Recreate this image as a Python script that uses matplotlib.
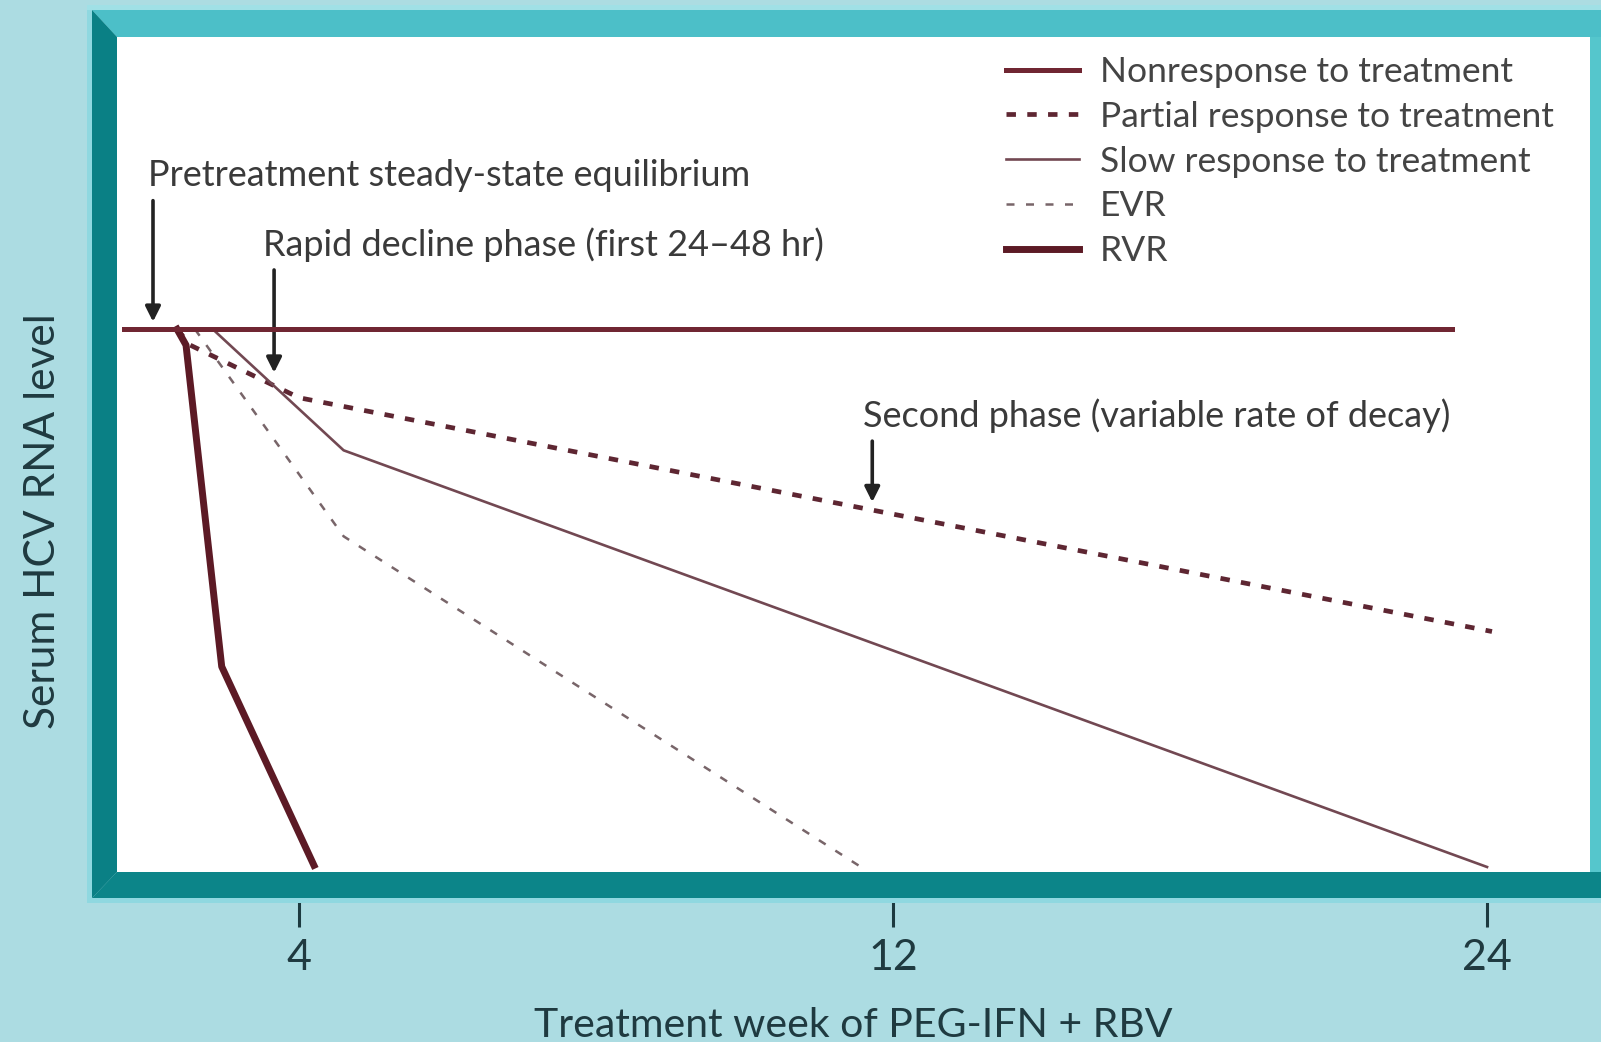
import numpy as np
import matplotlib
matplotlib.use("Agg")
import matplotlib.pyplot as plt
from matplotlib.patches import Polygon

plt.rcParams['font.family'] = ['Lato', 'DejaVu Sans']

# --- Data (schematic HCV RNA kinetics; x in treatment weeks, y in arbitrary log units) ---
nonresp_wk = [-1.9, 23.3]
nonresp_lvl = [65, 65]

partial_wk = [-0.1, 0.34, 4.0, 24.1]
partial_lvl = [65, 63.1, 56.8, 28.8]

slow_wk = [1.1, 4.6, 24.0]
slow_lvl = [65, 50.5, 0.6]

evr_wk = [0.5, 4.6, 11.55]
evr_lvl = [65, 40.2, 0.7]

rvr_wk = [-0.1, 0.2, 1.4, 4.2]
rvr_lvl = [65, 63.1, 24.6, 0.8]

tick_weeks = [4, 12, 24]
tick_labels = ['4', '12', '24']

labels = ['Nonresponse to treatment', 'Partial response to treatment',
          'Slow response to treatment', 'EVR', 'RVR']

# --- Non-linear time axis (the schematic stretches early weeks) ---
anchor_wk = np.array([-10, 4, 12, 24, 40])
anchor_pos = np.array([-117.5, 299, 893, 1487, 2279])

def fwd(w):
    return np.interp(w, anchor_wk, anchor_pos)

def inv(p):
    return np.interp(p, anchor_pos, anchor_wk)

# --- Figure ---
W, H = 1601, 1042
bg = '#acdce2'
fig = plt.figure(figsize=(W / 100, H / 100), dpi=100, facecolor=bg)

def fx(px):
    return px / W

def fy(py):
    return 1 - py / H

ax = fig.add_axes([fx(117), fy(872), fx(1590) - fx(117), fy(37) - fy(872)])
ax.set_facecolor('white')
ax.set_xscale('function', functions=(fwd, inv))
ax.set_xlim(-2.12, 26.08)
ax.set_ylim(0, 100)
for s in ax.spines.values():
    s.set_visible(False)

ax.plot(partial_wk, partial_lvl, color='#5e2632', lw=3.4, ls=(0, (2.0, 2.4)),
        label=labels[1], solid_capstyle='butt', zorder=3)
ax.plot(slow_wk, slow_lvl, color='#724852', lw=1.9, label=labels[2], zorder=3)
ax.plot(evr_wk, evr_lvl, color='#786569', lw=1.8, ls=(0, (3.2, 4.6)),
        label=labels[3], zorder=3)
ax.plot(rvr_wk, rvr_lvl, color='#5c1a25', lw=5.0, label=labels[4], zorder=4)
ax.plot(nonresp_wk, nonresp_lvl, color='#702632', lw=3.6, label=labels[0], zorder=5)

# --- Annotations ---
txt_kw = dict(fontsize=26, color='#3a3a3a', va='center', ha='left')
arrow_kw = dict(arrowstyle='-|>,head_length=0.9,head_width=0.45', lw=2.6, color='#222222',
                shrinkA=0, shrinkB=0)

ax.text(-1.08, 83.4, 'Pretreatment steady-state equilibrium', **txt_kw)
ax.annotate('', xy=(-0.91, 65.9), xytext=(-0.91, 80.4), arrowprops=arrow_kw)

ax.text(2.79, 75.1, 'Rapid decline phase (first 24\u201348 hr)', **txt_kw)
ax.annotate('', xy=(3.16, 59.8), xytext=(3.16, 72.1), arrowprops=arrow_kw)

ax.text(11.6, 54.6, 'Second phase (variable rate of decay)', **txt_kw)
ax.annotate('', xy=(11.72, 44.3), xytext=(11.72, 51.6), arrowprops=arrow_kw)

# --- Legend ---
h, l = ax.get_legend_handles_labels()
order = [l.index(name) for name in labels]
ax.legend([h[i] for i in order], [l[i] for i in order],
          loc='upper left', bbox_to_anchor=(fx(1006), fy(56)),
          bbox_transform=fig.transFigure, frameon=False, fontsize=25.5,
          handlelength=2.05, handletextpad=0.6, labelspacing=0.36,
          borderpad=0, borderaxespad=0, labelcolor='#444444')

# --- Axis ticks and labels ---
ax.set_xticks(tick_weeks)
ax.set_xticklabels(tick_labels)
ax.xaxis.set_minor_locator(matplotlib.ticker.NullLocator())
ax.tick_params(axis='x', direction='out', length=39.6, width=2.2, color='#1c3a40',
               pad=9, labelsize=31, labelcolor='#1f3a40')
ax.set_yticks([])
ax.set_xlabel('Treatment week of PEG-IFN + RBV', fontsize=29.5, color='#1f3a40',
              labelpad=21)
ax.set_ylabel('Serum HCV RNA level', fontsize=30.5, color='#1f3a40')
ax.yaxis.set_label_coords(-0.037, 0.42)

# --- Teal picture frame around the plot ---
def poly(pts, color, z=10):
    fig.add_artist(Polygon([(fx(x), fy(y)) for x, y in pts], closed=True,
                           transform=fig.transFigure, facecolor=color,
                           edgecolor='none', zorder=z))

poly([(87, 5), (92, 5), (92, 903), (87, 903)], '#8fd8e0', 9)
poly([(87, 5), (1601, 5), (1601, 10), (87, 10)], '#a0e0e6', 9)
poly([(87, 898), (1601, 898), (1601, 903), (87, 903)], '#8fd8e0', 9)
poly([(92, 10), (1601, 10), (1601, 37), (117, 37)], '#4cbfc8')
poly([(1590, 37), (1601, 37), (1601, 872), (1590, 872)], '#55c6cc')
poly([(92, 898), (117, 872), (1601, 872), (1601, 898)], '#0c8589')
poly([(92, 10), (117, 37), (117, 872), (92, 898)], '#0a8085')

fig.savefig('out.png', dpi=100, facecolor=bg)
